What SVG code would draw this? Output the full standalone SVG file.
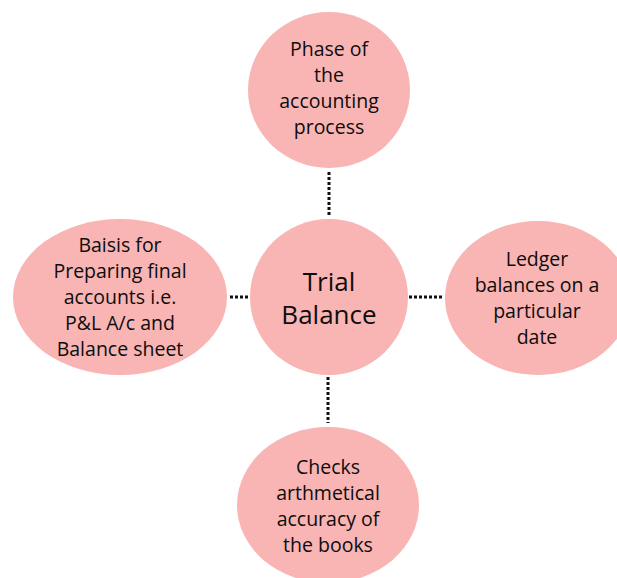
<svg xmlns="http://www.w3.org/2000/svg" width="617" height="578" viewBox="0 0 617 578">
<style>
.n{fill:#F9B4B4;}
.t{font-family:"Open Sans","Noto Sans",sans-serif;font-size:19.5px;fill:#0d0d0d;text-anchor:middle;}
.big{font-size:26px;}
.c{stroke:#111;stroke-width:3;stroke-dasharray:3 2;fill:none;}
</style>
<rect width="617" height="578" fill="#fff"/>
<g id="connectors">
<line class="c" x1="329" y1="172" x2="329" y2="216"/>
<line class="c" x1="230" y1="297" x2="249" y2="297"/>
<line class="c" x1="409" y1="297" x2="444" y2="297"/>
<line class="c" x1="328" y1="377" x2="328" y2="423"/>
</g>
<g id="top">
<ellipse class="n" cx="329" cy="90" rx="81" ry="78"/>
<text class="t" x="329" y="56">Phase of</text>
<text class="t" x="329" y="82">the</text>
<text class="t" x="329" y="108">accounting</text>
<text class="t" x="329" y="134">process</text>
</g>
<g id="center">
<ellipse class="n" cx="329" cy="297" rx="79" ry="78"/>
<text class="t big" x="329" y="291">Trial</text>
<text class="t big" x="329" y="324">Balance</text>
</g>
<g id="right">
<ellipse class="n" cx="538" cy="298" rx="93" ry="77"/>
<text class="t" x="537" y="266">Ledger</text>
<text class="t" x="537" y="292">balances on a</text>
<text class="t" x="537" y="318">particular</text>
<text class="t" x="537" y="344">date</text>
</g>
<g id="left">
<ellipse class="n" cx="120" cy="297" rx="107" ry="78"/>
<text class="t" x="120" y="252">Baisis for</text>
<text class="t" x="120" y="278">Preparing final</text>
<text class="t" x="120" y="304">accounts i.e.</text>
<text class="t" x="120" y="330">P&amp;L A/c and</text>
<text class="t" x="120" y="356">Balance sheet</text>
</g>
<g id="bottom">
<ellipse class="n" cx="328" cy="505" rx="91" ry="78"/>
<text class="t" x="328" y="474">Checks</text>
<text class="t" x="328" y="500">arthmetical</text>
<text class="t" x="328" y="526">accuracy of</text>
<text class="t" x="328" y="552">the books</text>
</g>
</svg>
